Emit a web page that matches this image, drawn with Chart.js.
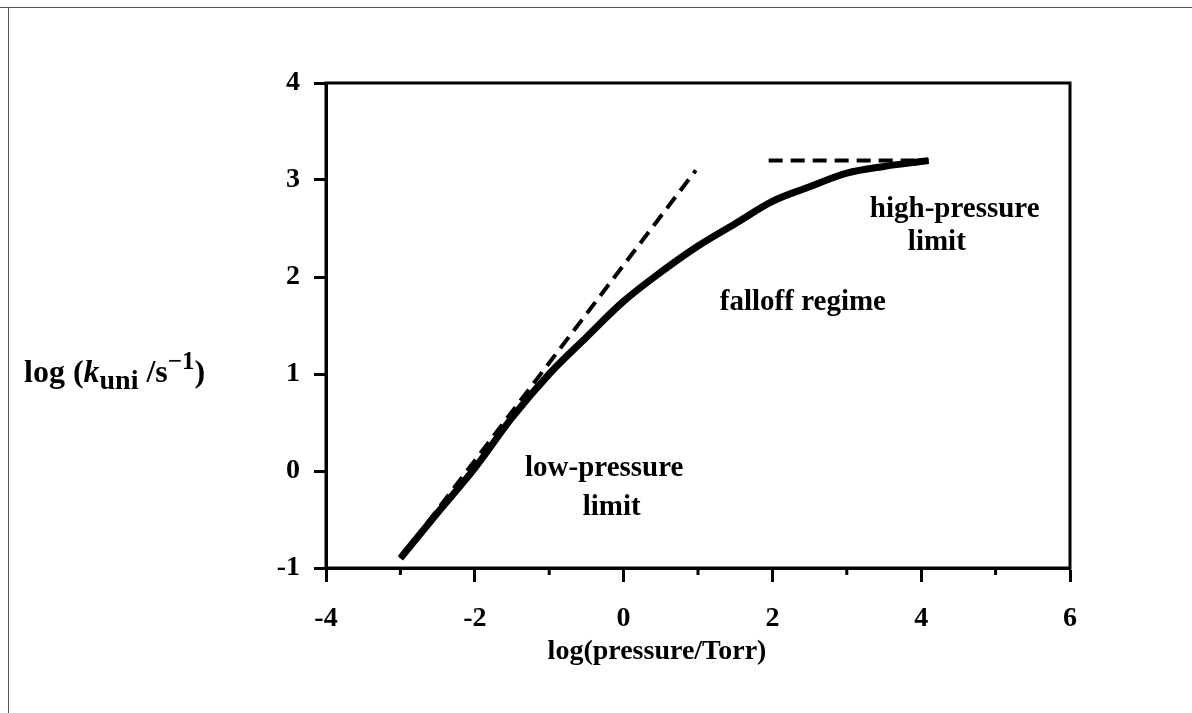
<!DOCTYPE html>
<html>
<head>
<meta charset="utf-8">
<script src="https://cdn.jsdelivr.net/npm/chart.js@4.4.1/dist/chart.umd.min.js"></script>
<style>
  html, body { margin: 0; padding: 0; background: #fff; }
  #wrap { position: relative; width: 1192px; height: 713px; }
</style>
</head>
<body>
<div id="wrap"><canvas id="c"></canvas></div>
<script>
// ---- data ----
const curveX = [-3, -2.5, -2, -1.5, -1, -0.5, 0, 0.5, 1, 1.5, 2, 2.5, 3, 3.5, 4, 4.1];
const curveY = [-0.9, -0.43, 0.03, 0.55, 1.0, 1.38, 1.75, 2.05, 2.32, 2.55, 2.78, 2.93, 3.07, 3.14, 3.19, 3.2];
const lowLimitX = [-3, 0.97];
const lowLimitY = [-0.9, 3.1];
const highLimitX = [1.95, 4.1];
const highLimitY = [3.2, 3.2];
const xTickValues = [-4, -2, 0, 2, 4, 6];
const yTickValues = [-1, 0, 1, 2, 3, 4];
const minorXTicks = [-3, -1, 1, 3, 5];
const annotations = [
  { text: 'low-pressure', x: -0.26, y: 0.03 },
  { text: 'limit', x: -0.16, y: -0.38 },
  { text: 'falloff regime', x: 2.41, y: 1.74 },
  { text: 'high-pressure', x: 4.45, y: 2.70 },
  { text: 'limit', x: 4.21, y: 2.36 }
];
const xTitle = 'log(pressure/Torr)';

const toPts = (xs, ys) => xs.map((x, i) => ({ x, y: ys[i] }));
const FONT = '"Liberation Serif", "DejaVu Serif", serif';

const decor = {
  id: 'decor',
  beforeDraw(chart) {
    const ctx = chart.ctx;
    ctx.save();
    ctx.strokeStyle = '#555';
    ctx.lineWidth = 1;
    ctx.beginPath();
    ctx.moveTo(0, 7.5); ctx.lineTo(1192, 7.5);
    ctx.moveTo(8.5, 7); ctx.lineTo(8.5, 713);
    ctx.stroke();
    ctx.restore();
  },
  afterDraw(chart) {
    const ctx = chart.ctx;
    const a = chart.chartArea;
    const xs = chart.scales.x, ys = chart.scales.y;
    ctx.save();
    ctx.strokeStyle = '#000';
    ctx.lineWidth = 3;
    ctx.strokeRect(a.left, a.top, a.right - a.left, a.bottom - a.top);
    ctx.beginPath();
    minorXTicks.forEach(v => {
      const px = xs.getPixelForValue(v);
      ctx.moveTo(px, a.bottom); ctx.lineTo(px, a.bottom + 7);
    });
    ctx.stroke();
    ctx.fillStyle = '#000';
    ctx.font = 'bold 29px ' + FONT;
    ctx.textAlign = 'center';
    ctx.textBaseline = 'middle';
    annotations.forEach(t => {
      ctx.fillText(t.text, xs.getPixelForValue(t.x), ys.getPixelForValue(t.y));
    });
    ctx.font = 'bold 28px ' + FONT;
    ctx.fillText(xTitle, 657, 652);
    // y title: log (k_uni /s^-1)
    ctx.textAlign = 'left';
    ctx.textBaseline = 'alphabetic';
    let x = 24; const base = 382;
    const seg = (txt, font, dy) => {
      ctx.font = font;
      ctx.fillText(txt, x, base + dy);
      x += ctx.measureText(txt).width;
    };
    seg('log (', 'bold 32px ' + FONT, 0);
    seg('k', 'bold italic 32px ' + FONT, 0);
    seg('uni', 'bold 28px ' + FONT, 7);
    seg(' /s', 'bold 32px ' + FONT, 0);
    seg('\u22121', 'bold 25px ' + FONT, -13);
    seg(')', 'bold 32px ' + FONT, 0);
    ctx.restore();
  }
};

new Chart(document.getElementById('c'), {
  type: 'scatter',
  data: {
    datasets: [
      {
        data: toPts(curveX, curveY),
        showLine: true, borderColor: '#000', borderWidth: 7,
        pointRadius: 0, cubicInterpolationMode: 'monotone', borderCapStyle: 'butt'
      },
      {
        data: toPts(lowLimitX, lowLimitY),
        showLine: true, borderColor: '#000', borderWidth: 4,
        borderDash: [14, 8], pointRadius: 0
      },
      {
        data: toPts(highLimitX, highLimitY),
        showLine: true, borderColor: '#000', borderWidth: 4,
        borderDash: [14, 8], pointRadius: 0
      }
    ]
  },
  options: {
    responsive: true,
    maintainAspectRatio: false,
    animation: false,
    layout: { padding: { left: 0, right: 122, top: 83, bottom: 0 } },
    plugins: { legend: { display: false }, tooltip: { enabled: false } },
    scales: {
      x: {
        type: 'linear', min: -4, max: 6,
        afterFit: s => { s.height = 145; },
        afterBuildTicks: s => { s.ticks = xTickValues.map(v => ({ value: v })); },
        grid: { drawOnChartArea: false, drawTicks: true, tickLength: 14, tickWidth: 3, tickColor: '#000' },
        border: { display: true, color: '#000', width: 3 },
        ticks: { color: '#000', padding: 20, font: { family: FONT, size: 28, weight: 'bold' }, maxRotation: 0 }
      },
      y: {
        type: 'linear', min: -1, max: 4,
        afterFit: s => { s.width = 326; },
        afterBuildTicks: s => { s.ticks = yTickValues.map(v => ({ value: v })); },
        grid: { drawOnChartArea: false, drawTicks: true, tickLength: 12, tickWidth: 3, tickColor: '#000' },
        border: { display: true, color: '#000', width: 3 },
        ticks: { color: '#000', padding: 14, font: { family: FONT, size: 28, weight: 'bold' } }
      }
    }
  },
  plugins: [decor]
});
</script>
</body>
</html>
